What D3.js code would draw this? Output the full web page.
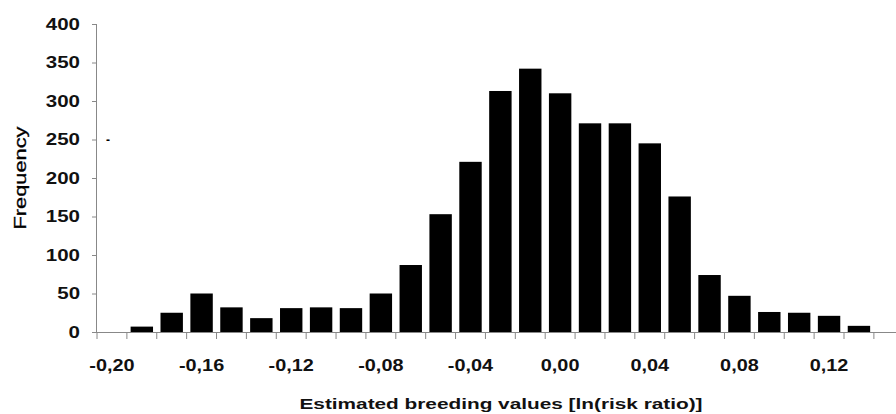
<!DOCTYPE html>
<html>
<head>
<meta charset="utf-8">
<script src="https://cdnjs.cloudflare.com/ajax/libs/d3/7.8.5/d3.min.js"></script>
<style>
  html, body { margin: 0; padding: 0; background: #fff; }
  svg { display: block; }
  text { font-family: "Liberation Sans", Arial, sans-serif; fill: #111; }
</style>
</head>
<body>
<svg id="chart" width="896" height="414"></svg>
<script>
// ---- data ----
const binLabels = ["-0,20","","","-0,16","","","-0,12","","","-0,08","","","-0,04","","",
                   "0,00","","","0,04","","","0,08","","","0,12","",""];
const frequencies = [0, 7, 25, 50, 32, 18, 31, 32, 31, 50, 87, 153, 221, 313, 342, 310,
                     271, 271, 245, 176, 74, 47, 26, 25, 21, 8, 0];
const yTicks = [0, 50, 100, 150, 200, 250, 300, 350, 400];
const xTitle = "Estimated breeding values [ln(risk ratio)]";
const yTitle = "Frequency";

// ---- layout ----
const svg = d3.select("#chart");
const x0 = 97, y0 = 332, yTop = 24;
const bandW = 29.88;
const idx = binLabels.map((d, i) => i);

const x = d3.scaleBand().domain(idx).range([x0, x0 + bandW * idx.length]).paddingInner(0.25).paddingOuter(0.125);
const xb = d3.scaleLinear().domain([0, idx.length]).range([x0, x0 + bandW * idx.length]);
const y = d3.scaleLinear().domain([0, 400]).range([y0, yTop]);

const stretch = 1.28;
function stretchText(sel, factor) {
  sel.each(function() {
    const L = this.getComputedTextLength();
    if (L > 0) {
      d3.select(this).attr("textLength", L * factor).attr("lengthAdjust", "spacingAndGlyphs");
    }
  });
}

// bars
svg.append("g").selectAll("rect")
  .data(frequencies.map((v, i) => ({ i, v })).filter(d => d.v > 0))
  .join("rect")
  .attr("x", d => x(d.i))
  .attr("width", x.bandwidth())
  .attr("y", d => y(d.v))
  .attr("height", d => y(0) - y(d.v))
  .attr("fill", "#000");

// y axis
const yAxis = svg.append("g")
  .attr("transform", `translate(${x0},0)`)
  .call(d3.axisLeft(y).tickValues(yTicks).tickSize(5).tickPadding(12).tickFormat(d3.format("d")));
yAxis.select(".domain").attr("stroke", "#888").attr("d", `M-0.5,${yTop}V${y0}`);
yAxis.selectAll(".tick line").attr("stroke", "#888");
yAxis.selectAll(".tick text")
  .style("font-family", '"Liberation Sans", Arial, sans-serif')
  .style("font-weight", "bold").style("font-size", "16px").attr("fill", "#111")
  .call(stretchText, stretch);

// x axis: ticks at bin boundaries
const xAxisG = svg.append("g").attr("transform", `translate(0,${y0})`);
xAxisG.append("line").attr("x1", x0 - 2).attr("x2", xb(idx.length)).attr("y1", 0.5).attr("y2", 0.5)
  .attr("stroke", "#888");
xAxisG.selectAll("line.tk").data(d3.range(0, idx.length + 1)).join("line").attr("class", "tk")
  .attr("x1", d => xb(d)).attr("x2", d => xb(d)).attr("y1", 0).attr("y2", 7)
  .attr("stroke", "#888");
xAxisG.selectAll("text.lbl").data(idx.filter(i => binLabels[i] !== "")).join("text").attr("class", "lbl")
  .attr("x", i => x(i) + x.bandwidth() / 2)
  .attr("y", 39)
  .attr("text-anchor", "middle")
  .style("font-weight", "bold").style("font-size", "16px")
  .text(i => binLabels[i])
  .call(stretchText, 1.24);

// small dash artifact next to 250
svg.append("text").attr("x", x0 + 9).attr("y", y(250) + 4).style("font-size", "12px")
  .style("font-weight", "bold").style("fill", "#000").text("-");

// titles
svg.append("text").attr("x", 501).attr("y", 409).attr("text-anchor", "middle")
  .style("font-weight", "bold").style("font-size", "15px")
  .attr("textLength", 403).attr("lengthAdjust", "spacingAndGlyphs")
  .text(xTitle);

svg.append("text").attr("transform", `translate(26,${(y0 + yTop) / 2}) rotate(-90)`)
  .attr("text-anchor", "middle").style("font-size", "16px").style("fill", "#000")
  .style("stroke", "#000").style("stroke-width", "0.3")
  .attr("textLength", 103).attr("lengthAdjust", "spacingAndGlyphs")
  .text(yTitle);
</script>
</body>
</html>
